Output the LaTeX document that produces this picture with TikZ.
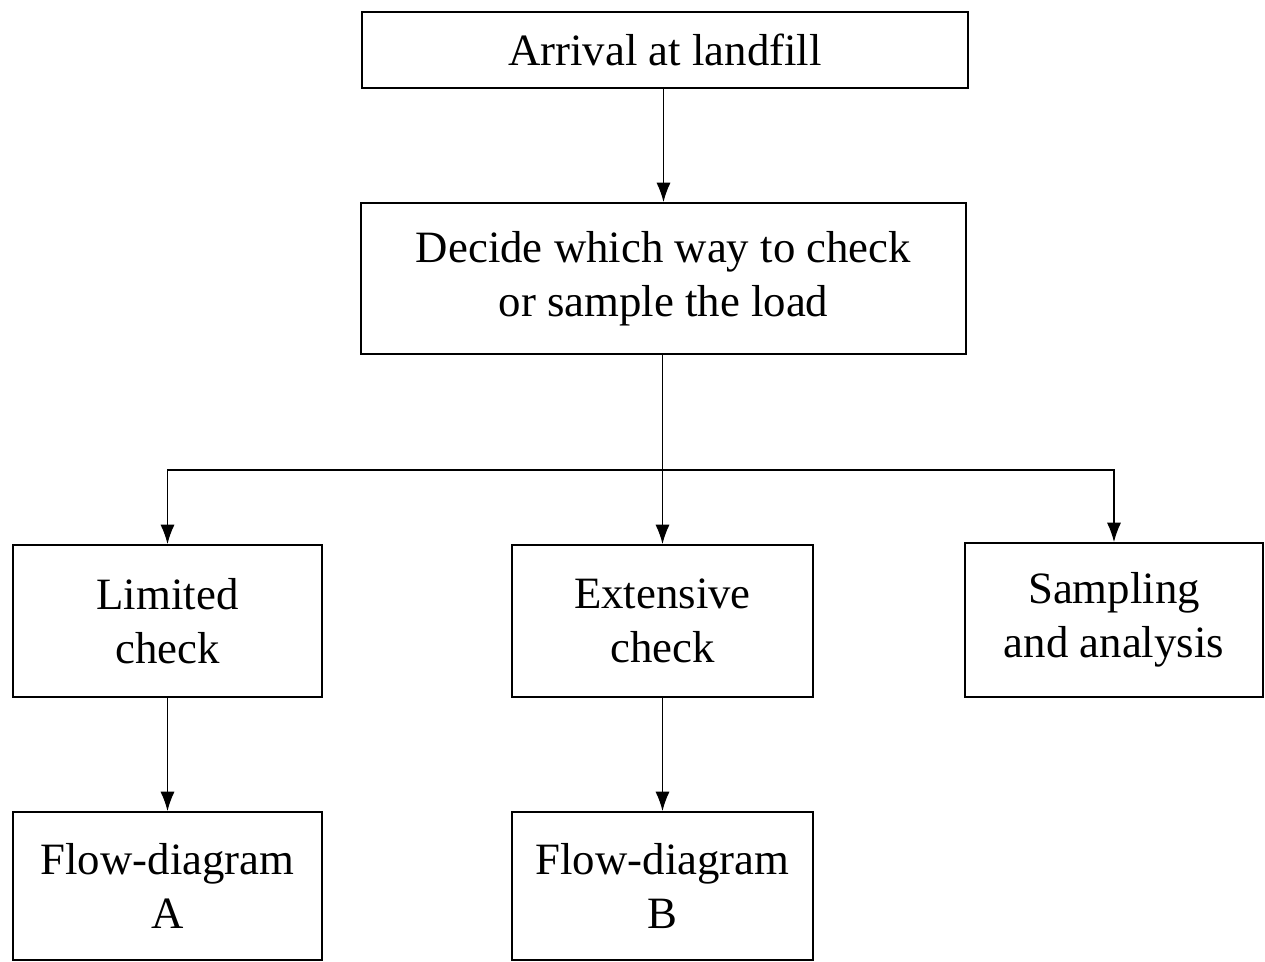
\documentclass[tikz,border=0pt]{standalone}
\usepackage{fontspec}
\setmainfont{Liberation Serif}
\usepackage{tikz}
\usetikzlibrary{arrows.meta}

\begin{document}
\begin{tikzpicture}[x=0.02cm, y=-0.02cm,
  box/.style={draw, line width=1.1pt, align=center, inner sep=0pt,
    font=\fontsize{25.5}{31}\selectfont},
  flow/.style={line width=0.7pt, -{Latex[length=11pt, width=8pt]}}]
\useasboundingbox (0,0) rectangle (1265,962);
% top of the chart
\node[box, minimum width=12.12cm, minimum height=1.52cm] (arrival) at (665,50) {Arrival at landfill};
\node[box, minimum width=12.1cm, minimum height=3.02cm] (decide) at (663.5,278.5) {Decide which way to check\\or sample the load};
% the three ways
\node[box, minimum width=6.18cm, minimum height=3.04cm] (limited) at (167.5,621) {Limited\\check};
\node[box, minimum width=6.02cm, minimum height=3.04cm] (extensive) at (662.5,621) {Extensive\\check};
\node[box, minimum width=5.96cm, minimum height=3.08cm] (sampling) at (1114,620) {Sampling\\and analysis};
% follow-up diagrams
\node[box, minimum width=6.18cm, minimum height=2.96cm] (flowA) at (167.5,886) {Flow-diagram\\A};
\node[box, minimum width=6.02cm, minimum height=2.96cm] (flowB) at (662.5,886) {Flow-diagram\\B};
\coordinate (split) at (662.5,470);
\draw[flow] (arrival.south -| decide.north) -- (decide.north);
\draw[line width=0.7pt] (decide.south -| split) -- (split);
\draw[flow] (split) -| (limited.north);
\draw[flow] (split) -- (extensive.north);
\draw[flow] (split) -| (sampling.north);
\draw[flow] (limited) -- (flowA);
\draw[flow] (extensive) -- (flowB);
\end{tikzpicture}
\end{document}
